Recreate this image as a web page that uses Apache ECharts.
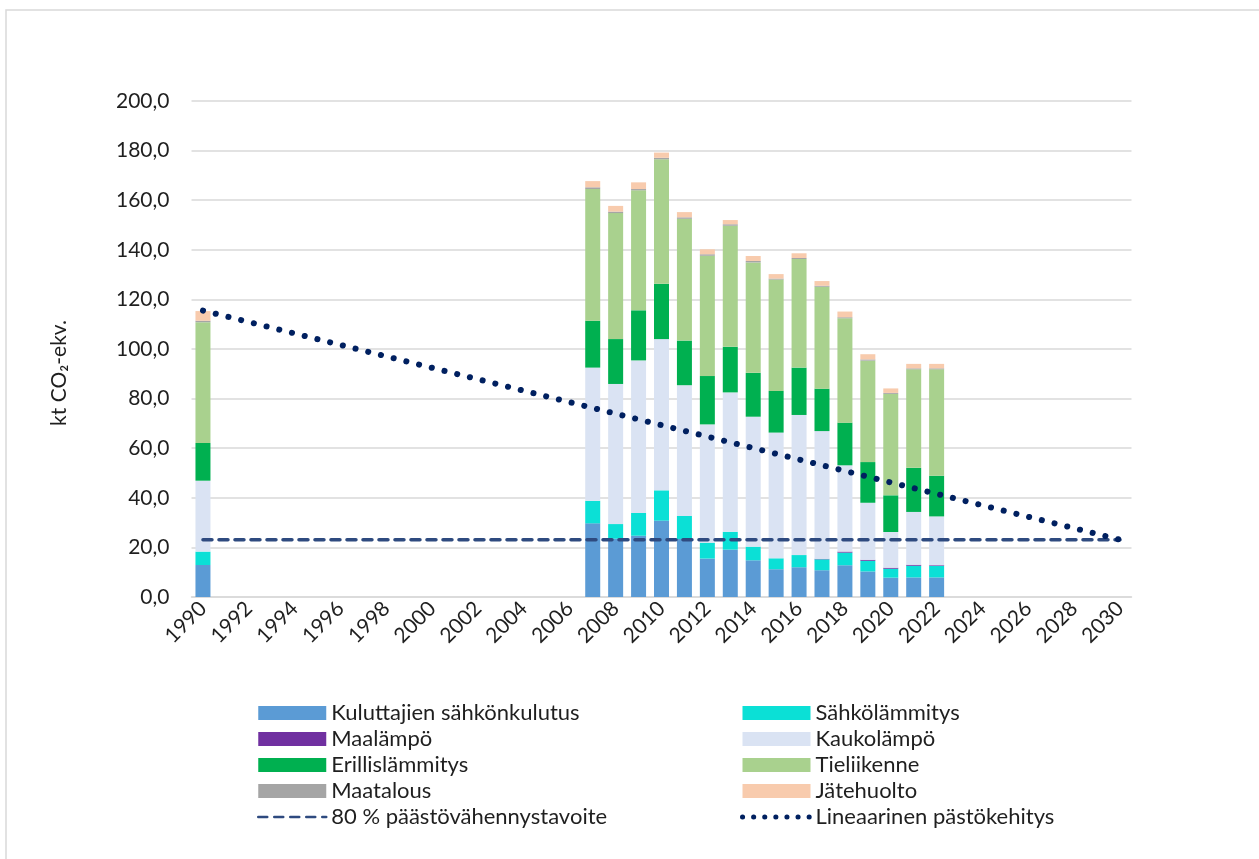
<!DOCTYPE html>
<html>
<head>
<meta charset="utf-8">
<title>Päästöt</title>
<script src="https://cdn.jsdelivr.net/npm/echarts@6/dist/echarts.min.js"></script>
<style>
  html, body { margin: 0; padding: 0; background: #fff; }
  #chart { width: 1259px; height: 859px; }
</style>
</head>
<body>
<div id="chart"></div>
<script>
// x-akselin vuodet
var years = ['1990', '1991', '1992', '1993', '1994', '1995', '1996', '1997', '1998', '1999',
  '2000', '2001', '2002', '2003', '2004', '2005', '2006', '2007', '2008', '2009',
  '2010', '2011', '2012', '2013', '2014', '2015', '2016', '2017', '2018', '2019',
  '2020', '2021', '2022', '2023', '2024', '2025', '2026', '2027', '2028', '2029', '2030']

// vuodet joilta on päästötiedot
var dataYears = ['1990', '2007', '2008', '2009', '2010', '2011', '2012', '2013', '2014',
  '2015', '2016', '2017', '2018', '2019', '2020', '2021', '2022']

var kuluttajat = [12.9, 29.7, 23.5, 24.7, 30.8, 23.4, 15.5, 19.1, 14.8, 11.2, 12.0, 10.8, 12.8, 10.3, 7.8, 7.9, 7.9]
var sahkolammitys = [5.4, 9.1, 5.9, 9.2, 12.2, 9.3, 6.4, 7.2, 5.5, 4.4, 4.9, 4.4, 5.1, 4.3, 3.6, 4.7, 4.6]
var maalampo = [0, 0, 0, 0, 0, 0, 0, 0, 0, 0, 0, 0.2, 0.4, 0.4, 0.4, 0.4, 0.3]
var kaukolampo = [28.6, 53.7, 56.5, 61.5, 61.0, 52.7, 47.7, 56.2, 52.4, 50.7, 56.5, 51.5, 34.8, 23.0, 14.4, 21.3, 19.7]
var erillislammitys = [15.2, 18.9, 18.1, 20.2, 22.3, 18.0, 19.5, 18.4, 17.7, 16.8, 19.1, 17.1, 17.2, 16.4, 14.8, 17.8, 16.4]
var tieliikenne = [48.7, 53.1, 50.8, 48.4, 50.2, 49.1, 48.5, 48.8, 44.5, 44.9, 43.8, 41.1, 42.1, 40.9, 40.9, 39.7, 42.9]
var maatalous = [0.6, 0.7, 0.6, 0.5, 0.6, 0.6, 0.6, 0.6, 0.6, 0.4, 0.4, 0.4, 0.4, 0.5, 0.4, 0.4, 0.4]
var jatehuolto = [3.9, 2.5, 2.3, 2.7, 2.1, 2.1, 2.0, 1.7, 2.0, 1.8, 1.9, 1.9, 2.3, 2.1, 1.8, 1.8, 1.8]

// tavoite- ja trendiviivat (alku- ja loppupiste)
var lineYears = ['1990', '2030']
var tavoite = [23.1, 23.1]
var lineaarinen = [115.5, 23.1]

var FONT = 'Lato, "Noto Sans", sans-serif'
var TEXT = '#1f1f1f'
var SIZE = 21

var dashStyle = { color: '#2e4a7f', width: 3.5, type: [9, 7], cap: 'round' }
var dotStyle = { color: '#002060', width: 6, type: [0.1, 13], cap: 'round' }

function toYears(values) {
  return years.map(function (y) {
    var i = dataYears.indexOf(y)
    return i < 0 ? null : values[i]
  })
}

function pairs(values) {
  return lineYears.map(function (y, i) { return [y, values[i]] })
}

function bar(name, values, color) {
  return {
    name: name,
    type: 'bar',
    stack: 'total',
    barWidth: 15,
    itemStyle: { color: color },
    emphasis: { disabled: true },
    data: toYears(values)
  }
}

var chart = echarts.init(document.getElementById('chart'))

var legendBase = {
  orient: 'vertical',
  top: 702,
  padding: 0,
  itemWidth: 68,
  itemHeight: 14,
  itemGap: 4,
  selectedMode: false,
  textStyle: { fontFamily: FONT, fontSize: 22, color: TEXT, lineHeight: 22 }
}

// viivojen selitteisiin pelkkä viiva ilman symbolia
var lineItem = function (name, style) {
  return {
    name: name,
    itemStyle: { opacity: 0 },
    lineStyle: { width: style.width - 1, type: style.type, cap: 'round' }
  }
}

chart.setOption({
  animation: false,
  textStyle: { fontFamily: FONT },
  graphic: [{
    type: 'rect',
    shape: { x: 6, y: 10, width: 1300, height: 900 },
    style: { fill: null, stroke: '#d9d9d9', lineWidth: 1.5 },
    silent: true
  }],
  grid: { left: 191.5, right: 127.5, top: 101, bottom: 262 },
  legend: [
    Object.assign({}, legendBase, {
      left: 257,
      data: [
        { name: 'Kuluttajien sähkönkulutus', icon: 'rect' },
        { name: 'Maalämpö', icon: 'rect' },
        { name: 'Erillislämmitys', icon: 'rect' },
        { name: 'Maatalous', icon: 'rect' },
        lineItem('80 % päästövähennystavoite', dashStyle)
      ]
    }),
    Object.assign({}, legendBase, {
      left: 740,
      data: [
        { name: 'Sähkölämmitys', icon: 'rect' },
        { name: 'Kaukolämpö', icon: 'rect' },
        { name: 'Tieliikenne', icon: 'rect' },
        { name: 'Jätehuolto', icon: 'rect' },
        lineItem('Lineaarinen pästökehitys', { width: 6, type: [0.1, 11] })
      ]
    })
  ],
  xAxis: {
    type: 'category',
    data: years,
    boundaryGap: true,
    axisTick: { show: false },
    axisLine: { lineStyle: { color: '#d9d9d9', width: 1.5 } },
    axisLabel: {
      interval: 1,
      rotate: 45,
      margin: 8,
      fontFamily: FONT,
      fontSize: SIZE,
      color: TEXT
    }
  },
  yAxis: {
    type: 'value',
    min: 0,
    max: 200,
    interval: 20,
    name: 'kt CO₂-ekv.',
    nameLocation: 'middle',
    nameGap: 122,
    nameRotate: 90,
    nameTextStyle: { fontFamily: FONT, fontSize: SIZE, color: TEXT, padding: [0, 48, 0, 0] },
    axisLine: { show: false },
    axisTick: { show: false },
    axisLabel: {
      margin: 22,
      fontFamily: FONT,
      fontSize: SIZE,
      color: TEXT,
      formatter: function (v) { return v.toFixed(1).replace('.', ',') }
    },
    splitLine: { lineStyle: { color: '#d9d9d9', width: 1.5 } }
  },
  series: [
    bar('Kuluttajien sähkönkulutus', kuluttajat, '#5b9bd5'),
    bar('Sähkölämmitys', sahkolammitys, '#0be0d6'),
    bar('Maalämpö', maalampo, '#7030a0'),
    bar('Kaukolämpö', kaukolampo, '#dae3f3'),
    bar('Erillislämmitys', erillislammitys, '#00b050'),
    bar('Tieliikenne', tieliikenne, '#a9d18e'),
    bar('Maatalous', maatalous, '#a5a5a5'),
    bar('Jätehuolto', jatehuolto, '#f8cbad'),
    {
      name: '80 % päästövähennystavoite',
      type: 'line',
      z: 3,
      symbol: 'none',
      lineStyle: dashStyle,
      itemStyle: { color: dashStyle.color },
      data: pairs(tavoite)
    },
    {
      name: 'Lineaarinen pästökehitys',
      type: 'line',
      z: 4,
      symbol: 'none',
      lineStyle: dotStyle,
      itemStyle: { color: dotStyle.color },
      data: pairs(lineaarinen)
    }
  ]
})
</script>
</body>
</html>
